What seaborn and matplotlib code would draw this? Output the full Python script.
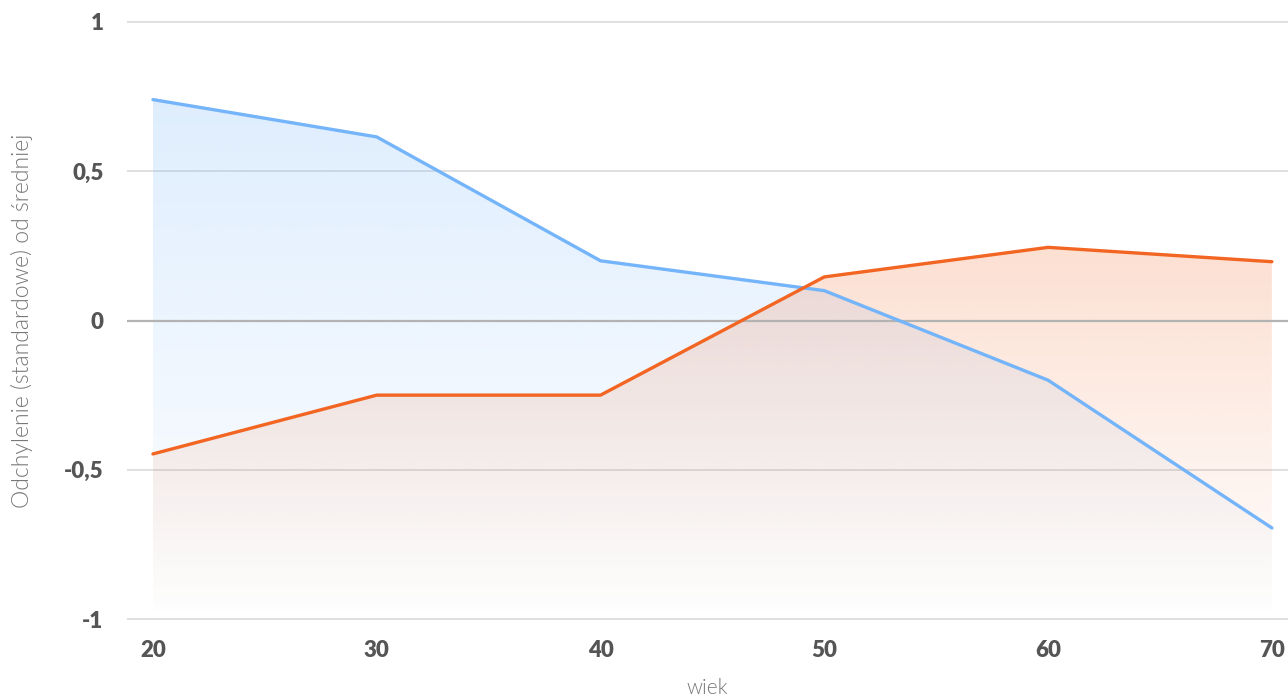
import numpy as np
import pandas as pd
import seaborn as sns
import matplotlib.pyplot as plt
from matplotlib.colors import to_rgb

# data
wiek = [20, 30, 40, 50, 60, 70]
seria_a = [0.74, 0.615, 0.2, 0.1, -0.2, -0.695]
seria_b = [-0.447, -0.25, -0.25, 0.146, 0.245, 0.197]
y_ticks = [-1, -0.5, 0, 0.5, 1]
y_tick_labels = ["-1", "-0,5", "0", "0,5", "1"]

kolory = {"a": "#74b4fa", "b": "#f26522"}

df = pd.concat([
    pd.DataFrame({"wiek": wiek, "wartosc": seria_a, "seria": "a"}),
    pd.DataFrame({"wiek": wiek, "wartosc": seria_b, "seria": "b"}),
])

sns.set_theme(style="white")
plt.rcParams["font.family"] = ["Lato", "DejaVu Sans"]

fig = plt.figure(figsize=(12.88, 6.98), dpi=100)
ax = fig.add_axes([127 / 1288, 76 / 698, 1 - 127 / 1288, 603 / 698])

ymin, ymax = -1.01, 1.01
xmin, xmax = 18.84, 70.72

# gradient area fills, clipped to the area under each line
def gradient_fill(x, y, color, alpha_top):
    poly = ax.fill_between(x, y, -1, color="none", lw=0)
    rgb = to_rgb(color)
    grad = np.zeros((256, 1, 4))
    grad[:, :, :3] = rgb
    grad[:, 0, 3] = np.linspace(alpha_top, 0.0, 256)
    im = ax.imshow(grad, aspect="auto", extent=[x[0], x[-1], -1, 1],
                   origin="upper", zorder=1)
    path = poly.get_paths()[0]
    im.set_clip_path(path, transform=ax.transData)

gradient_fill(wiek, seria_a, kolory["a"], 0.27)
gradient_fill(wiek, seria_b, kolory["b"], 0.33)

# grid lines
for t in y_ticks:
    if t == 0:
        ax.axhline(t, color="#b3b3b3", lw=1.6, zorder=2)
    else:
        ax.axhline(t, color="#e0e0e0", lw=1.4, zorder=0)

sns.lineplot(data=df, x="wiek", y="wartosc", hue="seria", palette=kolory,
             lw=2.4, legend=False, ax=ax, zorder=3)

ax.set_xlim(xmin, xmax)
ax.set_ylim(ymin, ymax)
ax.set_xticks(wiek)
ax.set_xticklabels([str(w) for w in wiek], fontsize=16, fontweight="heavy",
                   color="#555555")
ax.set_yticks(y_ticks)
ax.set_yticklabels(y_tick_labels, fontsize=16, fontweight="heavy",
                   color="#555555")
ax.tick_params(axis="both", length=0)
ax.tick_params(axis="y", pad=17)
ax.tick_params(axis="x", pad=13)

for s in ax.spines.values():
    s.set_visible(False)

ax.set_xlabel("wiek", fontsize=15, color="#777777", fontweight=300,
              labelpad=12)
ax.set_ylabel("Odchylenie (standardowe) od średniej", fontsize=16.5,
              color="#777777", fontweight=300, labelpad=22)

fig.savefig("out.png", dpi=100)
